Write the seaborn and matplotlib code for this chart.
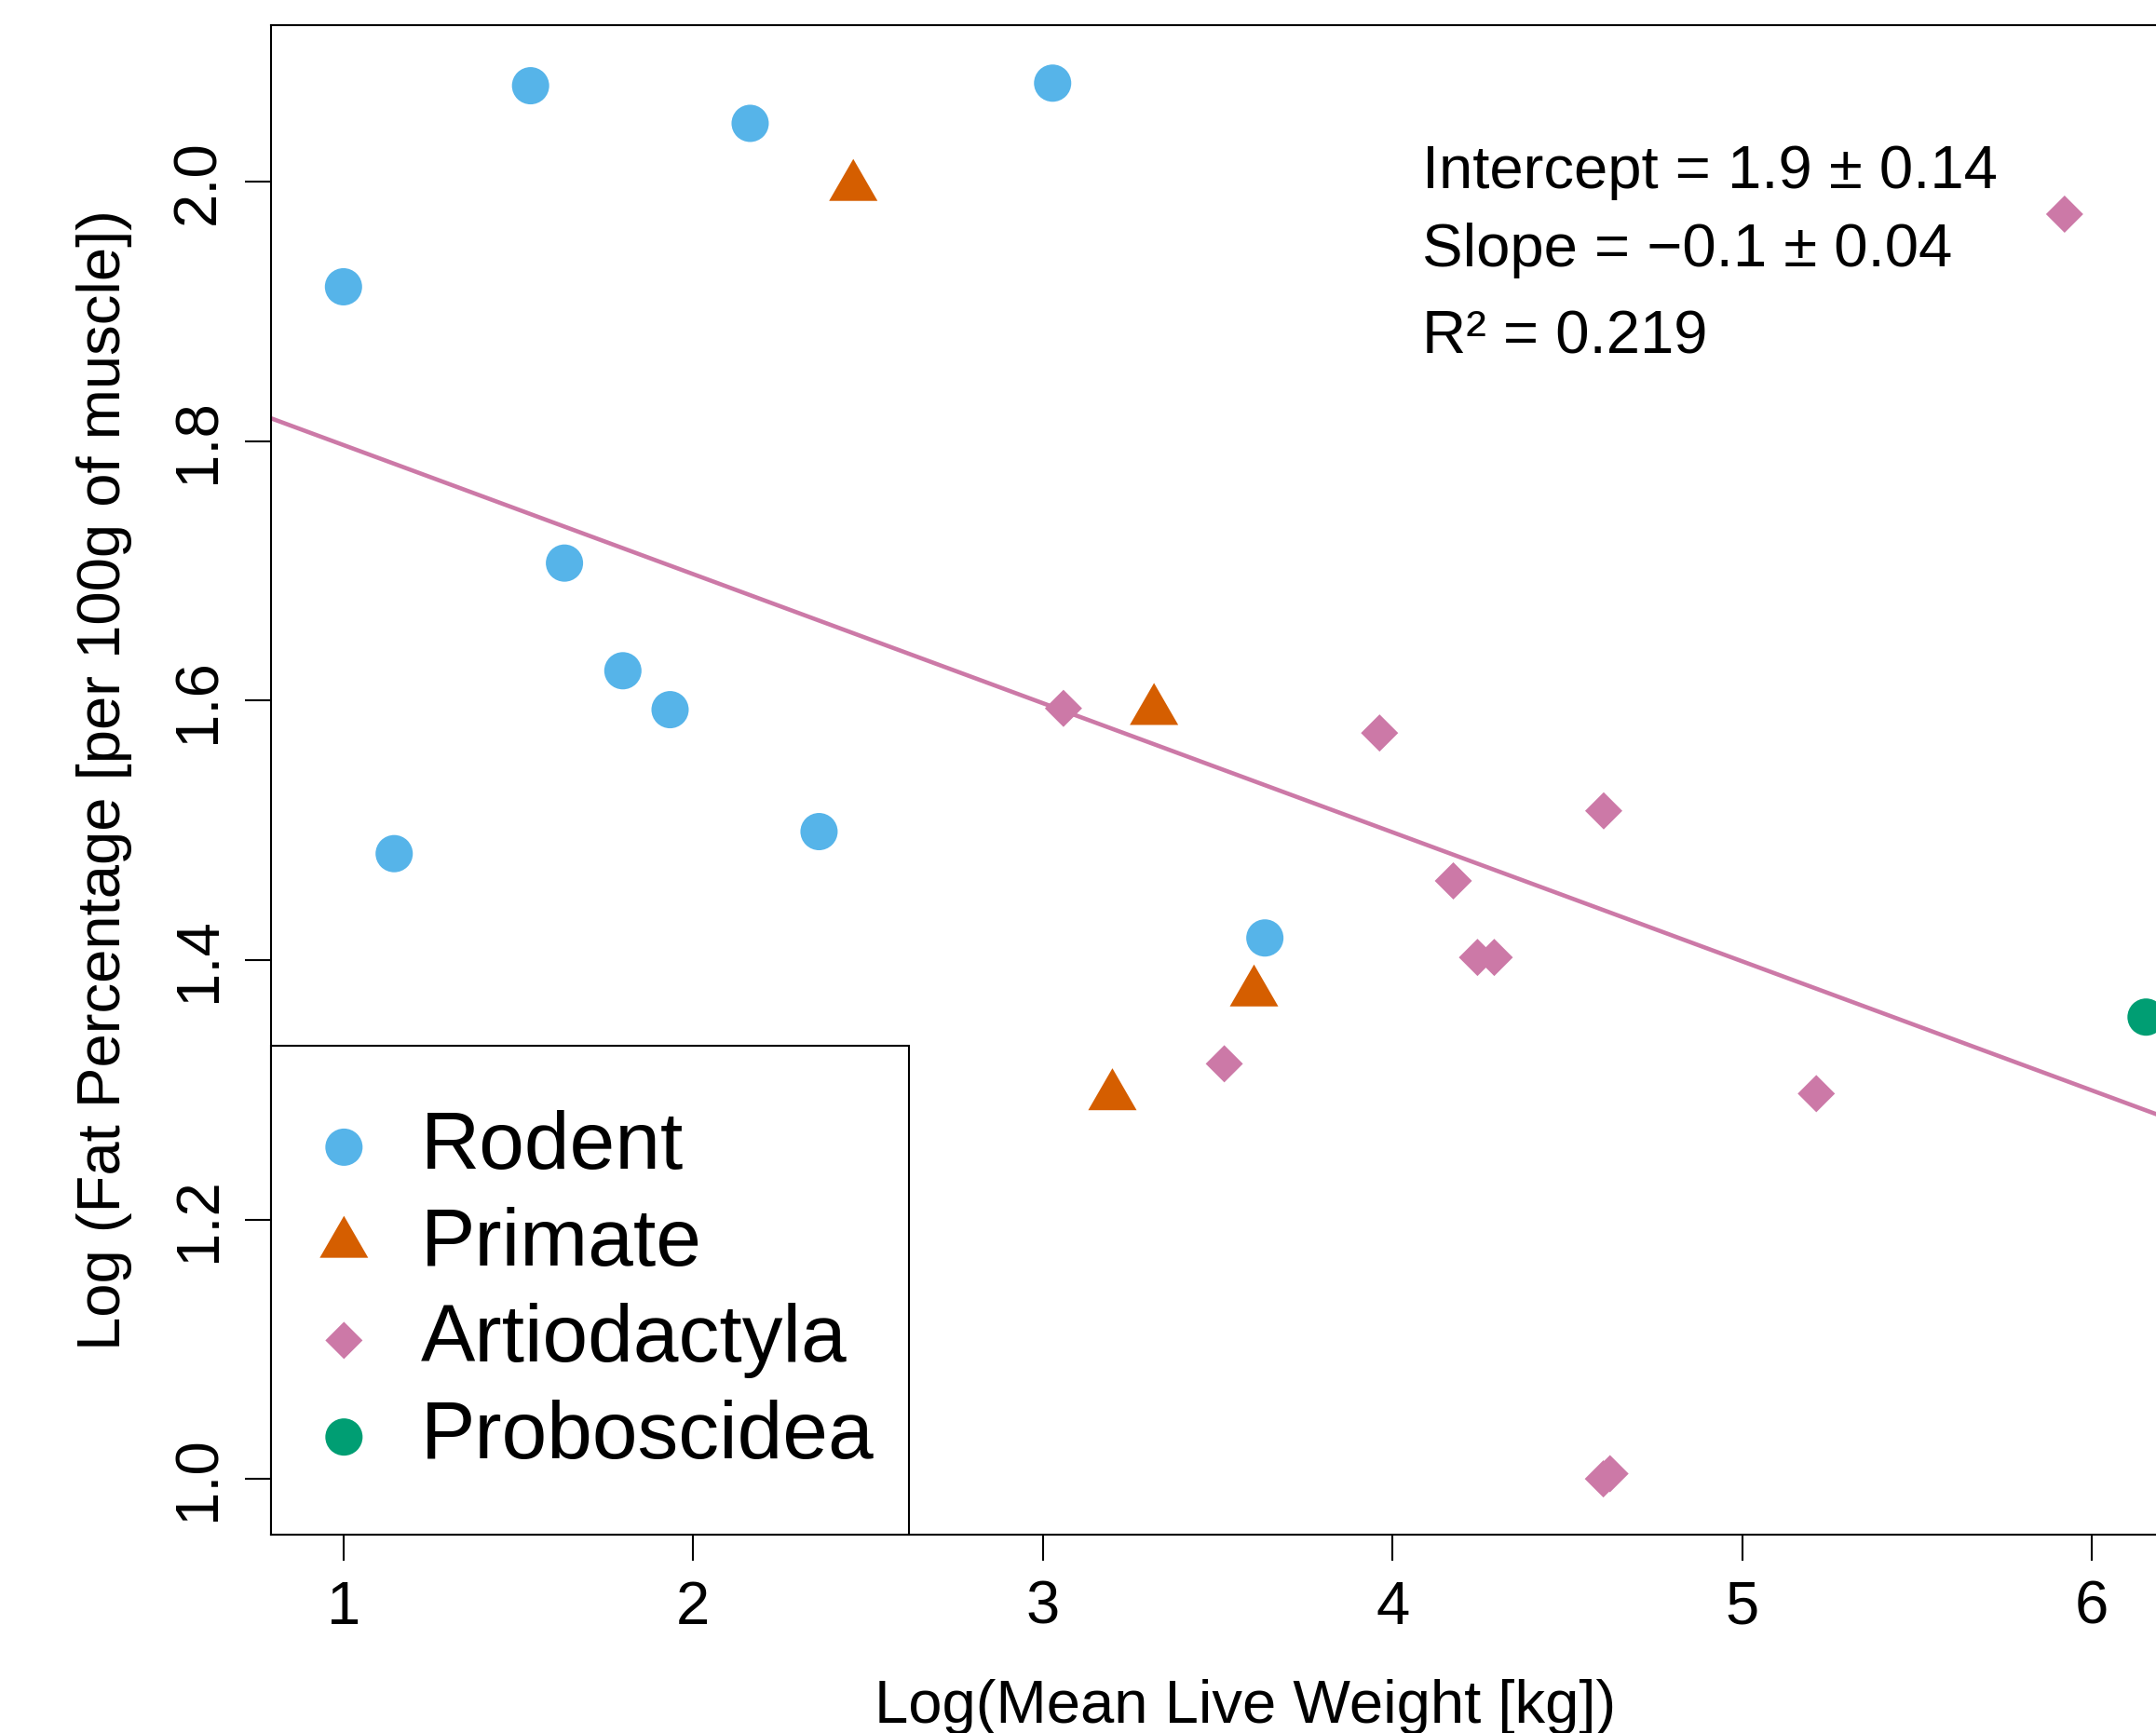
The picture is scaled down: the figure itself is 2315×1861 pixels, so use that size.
import matplotlib
matplotlib.use("Agg")
import matplotlib.pyplot as plt
from matplotlib.path import Path
from matplotlib.patches import Rectangle
import seaborn as sns
import numpy as np

# ---------------- data ----------------
rodent_x = [1.000, 1.535, 2.163, 3.028, 1.632, 1.799, 1.934, 1.145, 2.360, 3.635]
rodent_y = [1.919, 2.074, 2.045, 2.076, 1.706, 1.623, 1.593, 1.482, 1.499, 1.417]

primate_x = [2.458, 3.318, 3.604, 3.199]
primate_y = [1.996, 1.592, 1.375, 1.295]

artio_x = [3.059, 3.963, 4.604, 4.174, 4.243, 4.291, 3.519, 5.212, 5.922, 4.603, 4.622]
artio_y = [1.594, 1.575, 1.515, 1.461, 1.402, 1.402, 1.320, 1.297, 1.975, 1.000, 1.004]

probo_x = [6.155]
probo_y = [1.356]

groups = ["Rodent", "Primate", "Artiodactyla", "Proboscidea"]
colors = ["#56B4E9", "#D55E00", "#CC79A7", "#009E73"]

fit_intercept = 1.8965
fit_slope = -0.0995
annot_lines = ["Intercept = 1.9 \u00b1 0.14", "Slope = \u22120.1 \u00b1 0.04", "R\u00b2 = 0.219"]

xticks = [1, 2, 3, 4, 5, 6]
yticks = [1.0, 1.2, 1.4, 1.6, 1.8, 2.0]
ytick_labels = ["1.0", "1.2", "1.4", "1.6", "1.8", "2.0"]

x_label = "Log(Mean Live Weight [kg])"
y_label = "Log (Fat Percentage [per 100g of muscle])"

# ---------------- style ----------------
sns.set_style("ticks")
plt.rcParams["font.family"] = ["Liberation Sans", "DejaVu Sans"]
plt.rcParams["axes.linewidth"] = 1.5
plt.rcParams["text.color"] = "black"
plt.rcParams["axes.labelcolor"] = "black"
plt.rcParams["xtick.color"] = "black"
plt.rcParams["ytick.color"] = "black"
plt.rcParams["axes.edgecolor"] = "black"

fig = plt.figure(figsize=(23.15, 18.61), dpi=100)
ax = fig.add_axes([0.1259, 0.11445, 0.9029, 0.87126])

# regression line
ax.axline((0, fit_intercept), slope=fit_slope, color=colors[2], lw=3.3, zorder=1)

tri = Path([(0, 1), (-0.866, -0.5), (0.866, -0.5), (0, 1)],
           [Path.MOVETO, Path.LINETO, Path.LINETO, Path.CLOSEPOLY])

sns.scatterplot(x=rodent_x, y=rodent_y, ax=ax, color=colors[0], marker="o",
                s=830, linewidth=0, edgecolor="none", label=groups[0], zorder=3)
sns.scatterplot(x=primate_x, y=primate_y, ax=ax, color=colors[1], marker=tri,
                s=1870, linewidth=0, edgecolor="none", label=groups[1], zorder=3)
sns.scatterplot(x=artio_x, y=artio_y, ax=ax, color=colors[2], marker="D",
                s=415, linewidth=0, edgecolor="none", label=groups[2], zorder=3)
sns.scatterplot(x=probo_x, y=probo_y, ax=ax, color=colors[3], marker="o",
                s=830, linewidth=0, edgecolor="none", label=groups[3], zorder=3)

ax.set_xlim(0.794, 6.361)
ax.set_ylim(0.957, 2.121)
ax.set_xticks(xticks)
ax.set_xticklabels([str(t) for t in xticks])
ax.set_yticks(yticks)
ax.set_yticklabels(ytick_labels, rotation=90, va="center")

ax.tick_params(axis="both", direction="out", length=20, width=1.5,
               labelsize=47, color="black", labelcolor="black")
ax.tick_params(axis="x", pad=15)
ax.tick_params(axis="y", pad=14.5)

for sp in ax.spines.values():
    sp.set_visible(True)
    sp.set_color("black")
    sp.set_linewidth(1.5)

ax.set_xlabel(x_label, fontsize=47, color="black")
ax.set_ylabel(y_label, fontsize=47, color="black")
ax.xaxis.set_label_coords(0.5, -0.0956)
ax.yaxis.set_label_coords(-0.0717, 0.5)

for txt, yy in zip(annot_lines, [0.8917, 0.8398, 0.7824]):
    ax.text(0.591, yy, txt, transform=ax.transAxes, fontsize=47,
            ha="left", va="baseline", color="black")

# legend box (drawn as a plain frame, like R's legend())
ax.add_patch(Rectangle((0, 0), 0.3273, 0.3238, transform=ax.transAxes,
                       facecolor="white", edgecolor="black", lw=1.5,
                       zorder=4, clip_on=False))

leg = ax.legend(loc="lower left", bbox_to_anchor=(0, 0), borderaxespad=0,
                fontsize=63, frameon=False, borderpad=0.73, handlelength=0.32,
                handletextpad=0.78, labelspacing=0.26, scatterpoints=1,
                labelcolor="black")
leg.set_zorder(5)

fig.savefig("out.png", dpi=100)
